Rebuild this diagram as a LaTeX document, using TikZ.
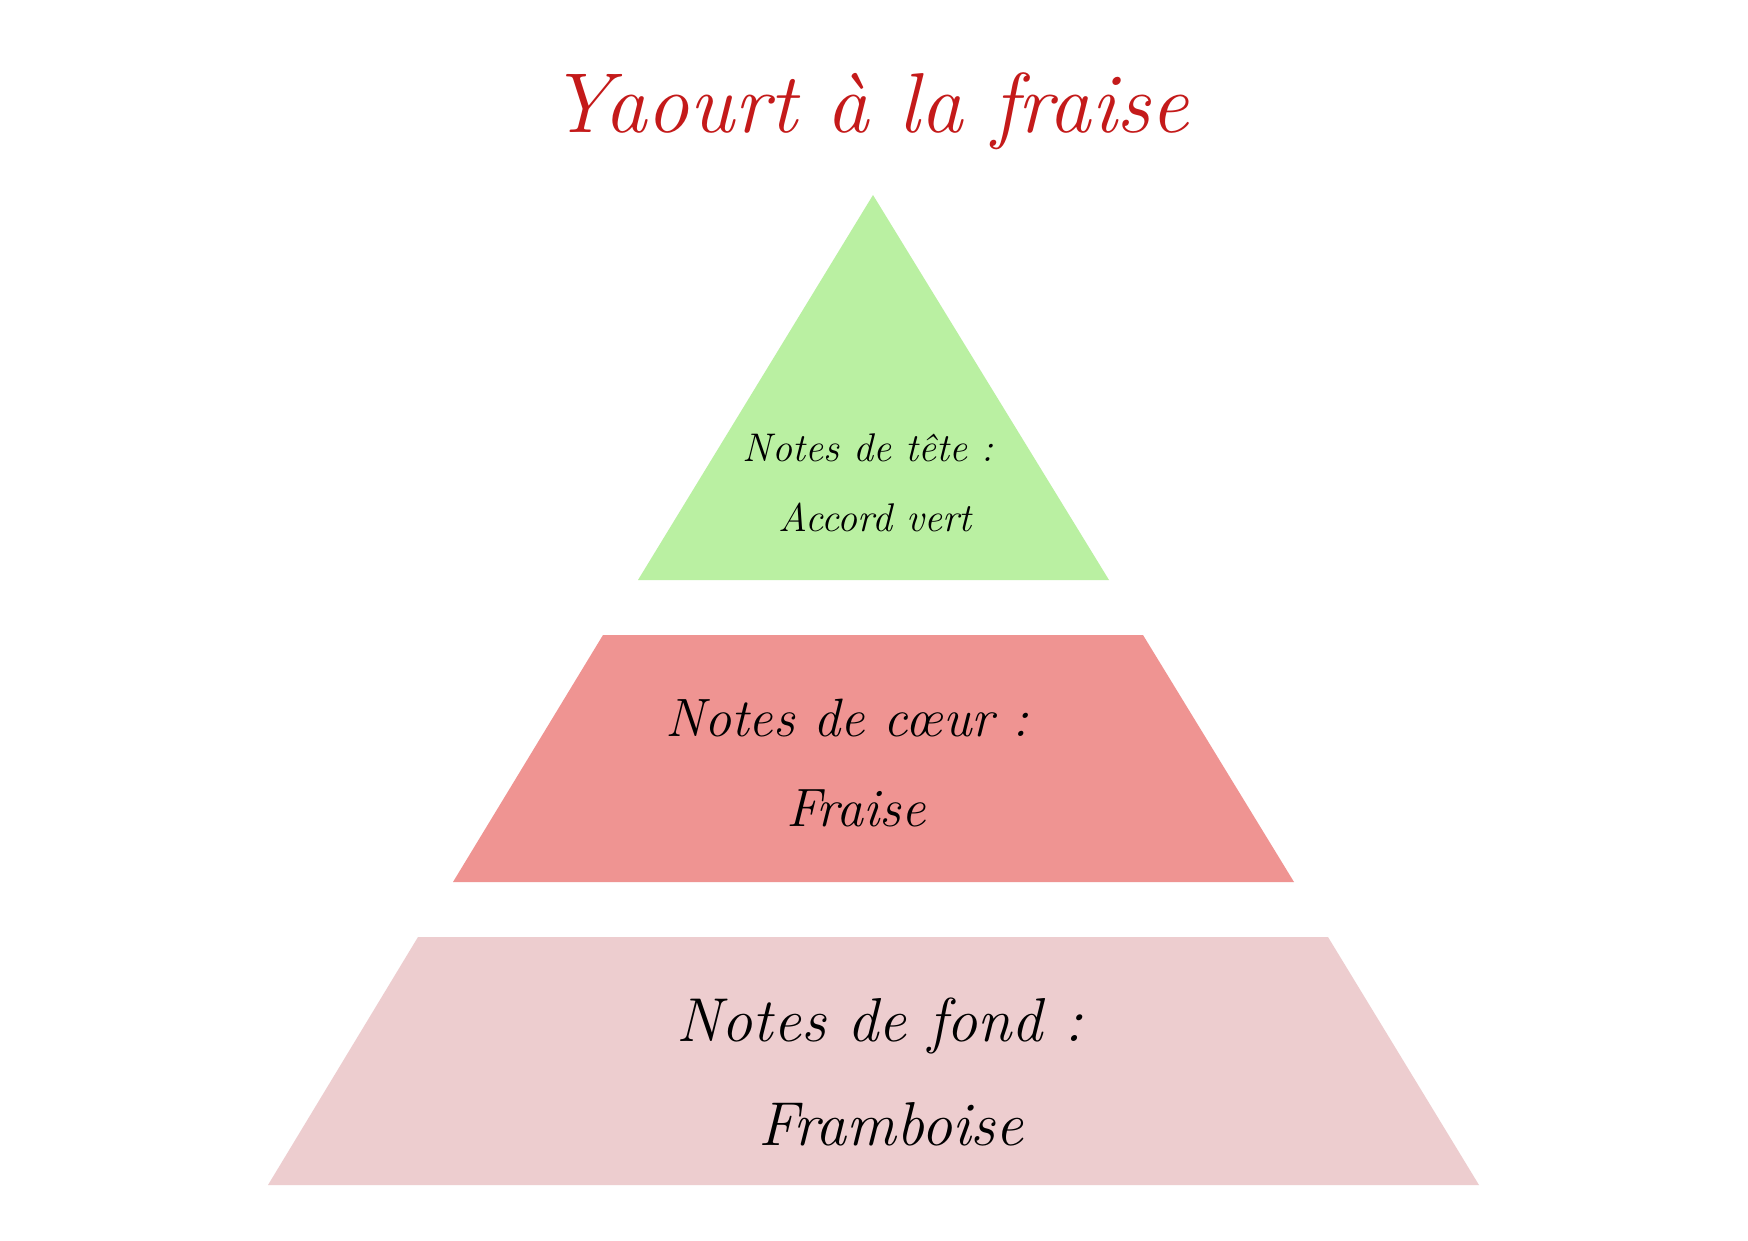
\documentclass[tikz,border=0pt]{standalone}
\usepackage{fontspec}
\definecolor{titlered}{HTML}{C41A1A}
\definecolor{topgreen}{HTML}{BAF0A2}
\definecolor{heartred}{HTML}{EF9492}
\definecolor{basepink}{HTML}{EDCDCF}
\tikzset{
  notetext/.style={anchor=base, inner sep=0pt, font=\itshape},
}
\begin{document}
\begin{tikzpicture}[x=1pt, y=-1pt]
            \useasboundingbox[fill=white] (0, 0) rectangle (1748, 1240);
            %\draw[lightgray] (0, 0) grid[step=100] (1748, 1240);
            \fill[topgreen] (873, 195) -- (1109, 580) -- (638, 580) -- cycle;
            \fill[heartred] (603, 635) -- (1143, 635) -- (1294, 882) -- (453, 882) -- cycle;
            \fill[basepink] (418, 937) -- (1328, 937) -- (1479, 1185) -- (268, 1185) -- cycle;

            \node[notetext, text=titlered, font=\itshape\fontsize{85}{94}\selectfont] (title) at (869, 132) {Yaourt à la fraise};

            \node[notetext, font=\itshape\fontsize{40}{48}\selectfont] (tete) at (868, 461) {Notes de tête :};
            \node[notetext, font=\itshape\fontsize{40}{48}\selectfont] (vert) at (875, 531) {Accord vert};

            \node[notetext, font=\itshape\fontsize{54}{62}\selectfont] (coeur) at (847, 736) {Notes de cœur :};
            \node[notetext, font=\itshape\fontsize{54}{62}\selectfont] (fraise) at (856, 826) {Fraise};

            \node[notetext, font=\itshape\fontsize{62}{70}\selectfont] (fond) at (880, 1041) {Notes de fond :};
            \node[notetext, font=\itshape\fontsize{62}{70}\selectfont] (framboise) at (891, 1145) {Framboise};
        \end{tikzpicture}
\end{document}
